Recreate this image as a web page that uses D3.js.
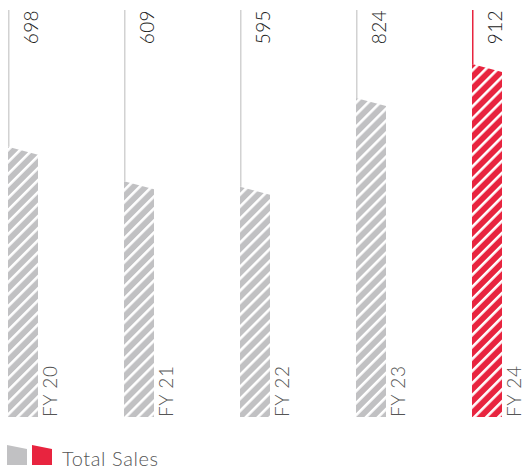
<!DOCTYPE html>
<html><head><meta charset="utf-8">
<script src="https://cdn.jsdelivr.net/npm/d3@7"></script>
<style>
html,body{margin:0;padding:0;background:#fff;}
svg{display:block;font-family:Lato,"Open Sans",sans-serif;}
</style></head>
<body><svg id="c" width="525" height="470"></svg>
<script>
const categories = ["FY 20","FY 21","FY 22","FY 23","FY 24"];
const sales = [698, 609, 595, 824, 912];
const highlight = [false, false, false, false, true];
const legendLabel = "Total Sales";

const grey = "#c1c1c3", red = "#e8243f";
const svg = d3.select("#c");
const defs = svg.append("defs");
function hatch(id, col){
  const p = defs.append("pattern").attr("id", id).attr("patternUnits","userSpaceOnUse")
    .attr("width", 8.5).attr("height", 8.5).attr("patternTransform","rotate(45)");
  p.append("rect").attr("width",8.5).attr("height",8.5).attr("fill",col);
  p.append("rect").attr("x",0).attr("y",0).attr("width",2.6).attr("height",8.5).attr("fill","#fff");
}
hatch("hg", grey); hatch("hr", red);

const x = d3.scalePoint().domain(categories).range([8, 472]);
const y = d3.scaleLinear().domain([0, 1000]).range([417, 30]);
const bw = 30, drop = 8, topY = 10;

const data = categories.map((c,i)=>({c, v:sales[i], hl:highlight[i]}));
const g = svg.append("g");
const item = g.selectAll("g.bar").data(data).join("g").attr("class","bar");

item.append("line")
  .attr("x1", d=>x(d.c)+0.75).attr("x2", d=>x(d.c)+0.75)
  .attr("y1", topY).attr("y2", d=>y(d.v))
  .attr("stroke", d=>d.hl?red:"#d2d2d2").attr("stroke-width",1.5);

item.append("path")
  .attr("d", d=>{
    const x0=x(d.c), x1=x0+bw;
    return `M${x0},${y(0)}L${x0},${y(d.v)}L${x1},${y(d.v)+drop}L${x1},${y(0)}Z`;
  })
  .attr("fill", d=>d.hl?"url(#hr)":"url(#hg)");

item.append("text")
  .attr("transform", d=>`translate(${x(d.c)+30},${topY}) rotate(-90)`)
  .attr("text-anchor","end")
  .attr("font-size",19).attr("font-weight",300).attr("fill","#222")
  .attr("letter-spacing",0.4)
  .text(d=>d.v);

item.append("text")
  .attr("transform", d=>`translate(${x(d.c)+bw+19},${y(0)}) rotate(-90)`)
  .attr("text-anchor","start")
  .attr("font-size",19).attr("font-weight",300).attr("fill","#555")
  .attr("letter-spacing",0.6)
  .text(d=>d.c);

// legend
const lg = svg.append("g");
const sw = [grey, red];
lg.selectAll("path").data(sw).join("path")
  .attr("d", (d,i)=>{ const x0 = 7 + i*25; return `M${x0},445L${x0+20},449L${x0+20},465L${x0},465Z`; })
  .attr("fill", d=>d);
lg.append("text").attr("x",62).attr("y",466).attr("font-size",20).attr("font-weight",300)
  .attr("letter-spacing",0.6)
  .attr("fill","#555").text(legendLabel);
</script></body></html>
